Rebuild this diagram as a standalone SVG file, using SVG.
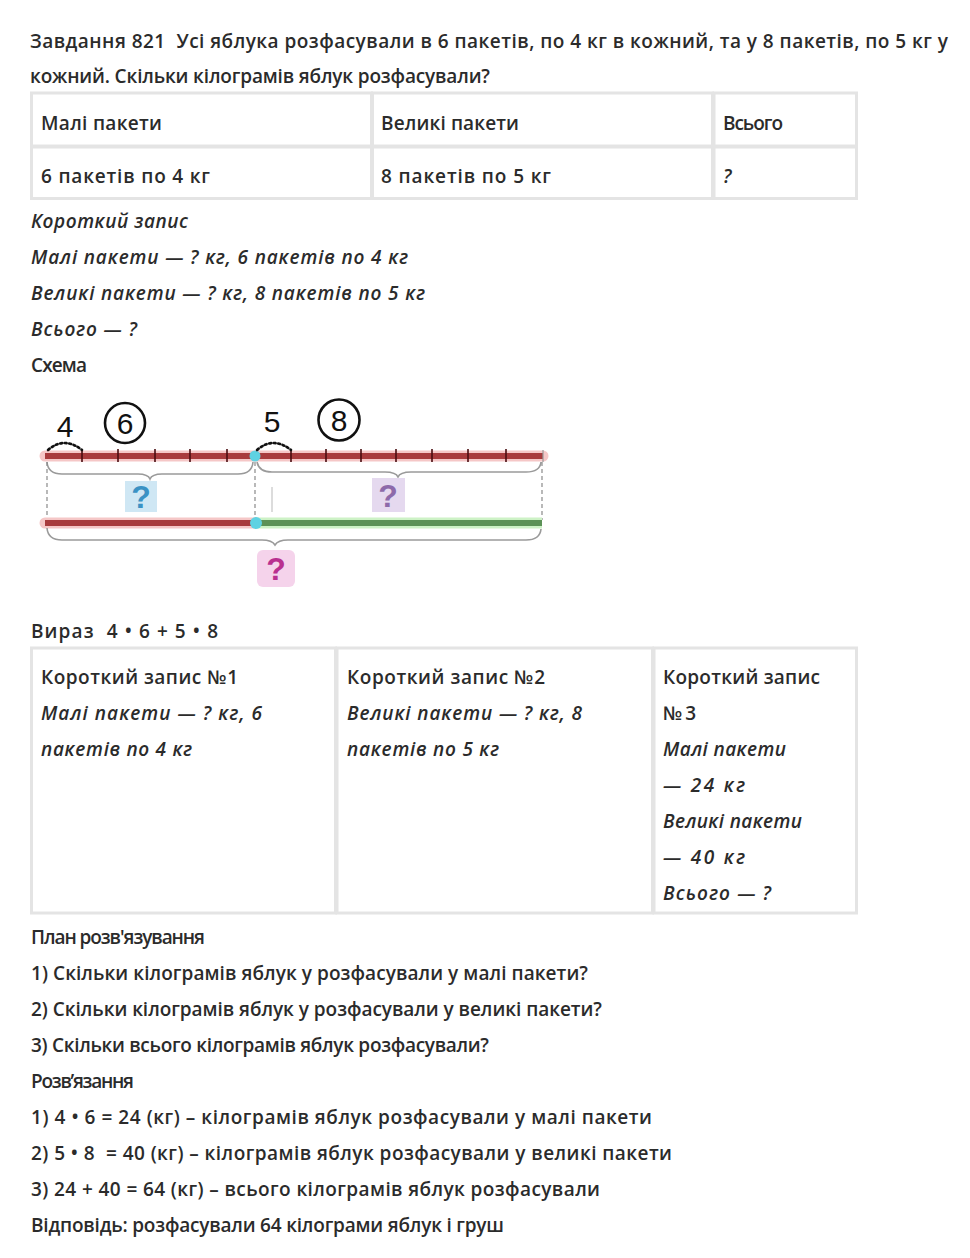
<svg xmlns="http://www.w3.org/2000/svg" width="970" height="1258" viewBox="0 0 970 1258">
<style>
.t{font-family:"Open Sans","Liberation Sans","Noto Sans",sans-serif;font-size:19px;font-weight:600;fill:#2b2b2b}
.i{font-style:italic}
.cell{fill:#fff;stroke:#e4e4e4;stroke-width:3}
.tick{stroke:#4a0c10;stroke-width:1.6}
.brace{fill:none;stroke:#9a9a9a;stroke-width:1.6}
.dash{stroke:#8a8a8a;stroke-width:1.2;stroke-dasharray:4 3}
.dot{fill:none;stroke:#111;stroke-width:2.6;stroke-dasharray:2 2.6;stroke-linecap:round}
.num{font-family:"Liberation Sans","DejaVu Sans",sans-serif;font-size:30px;fill:#111}
.q{font-family:"Liberation Sans","DejaVu Sans",sans-serif;font-size:32px;font-weight:bold}
</style>
<rect width="970" height="1258" fill="#fff"/>

<g id="title">
<text class="t" x="30" y="48" textLength="918" xml:space="preserve">Завдання 821  Усі яблука розфасували в 6 пакетів, по 4 кг в кожний, та у 8 пакетів, по 5 кг у</text>
<text class="t" x="30" y="83" textLength="460">кожний. Скільки кілограмів яблук розфасували?</text>
</g>

<g id="table1">
<rect class="cell" x="31.5" y="93" width="340" height="53"/>
<rect class="cell" x="372.5" y="93" width="340" height="53"/>
<rect class="cell" x="714" y="93" width="142.5" height="53"/>
<rect class="cell" x="31.5" y="147" width="340" height="51.5"/>
<rect class="cell" x="372.5" y="147" width="340" height="51.5"/>
<rect class="cell" x="714" y="147" width="142.5" height="51.5"/>
<text class="t" x="41" y="130" textLength="121">Малі пакети</text>
<text class="t" x="381" y="130" textLength="138">Великі пакети</text>
<text class="t" x="723" y="130" textLength="60">Всього</text>
<text class="t" x="41" y="183" textLength="169">6 пакетів по 4 кг</text>
<text class="t" x="381" y="183" textLength="170">8 пакетів по 5 кг</text>
<text class="t i" x="723" y="183">?</text>
</g>

<g id="short-note">
<text class="t i" x="31" y="228" textLength="157">Короткий запис</text>
<text class="t i" x="31" y="264" textLength="377">Малі пакети — ? кг, 6 пакетів по 4 кг</text>
<text class="t i" x="31" y="300" textLength="394">Великі пакети — ? кг, 8 пакетів по 5 кг</text>
<text class="t i" x="31" y="336" textLength="106">Всього — ?</text>
<text class="t" x="31" y="372" textLength="56">Схема</text>
</g>

<g id="scheme">
<line x1="45" y1="456" x2="543" y2="456" stroke="#f5c7c7" stroke-width="11" stroke-linecap="round"/>
<line x1="45" y1="456" x2="543" y2="456" stroke="#a83b3d" stroke-width="6"/>
<g id="ticks">
<line class="tick" x1="82" y1="449" x2="82" y2="462"/>
<line class="tick" x1="118" y1="449" x2="118" y2="462"/>
<line class="tick" x1="155" y1="449" x2="155" y2="462"/>
<line class="tick" x1="190" y1="449" x2="190" y2="462"/>
<line class="tick" x1="227" y1="449" x2="227" y2="462"/>
<line class="tick" x1="291" y1="449" x2="291" y2="462"/>
<line class="tick" x1="326" y1="449" x2="326" y2="462"/>
<line class="tick" x1="361" y1="449" x2="361" y2="462"/>
<line class="tick" x1="396" y1="449" x2="396" y2="462"/>
<line class="tick" x1="432" y1="449" x2="432" y2="462"/>
<line class="tick" x1="468" y1="449" x2="468" y2="462"/>
<line class="tick" x1="506" y1="449" x2="506" y2="462"/>
<line x1="543" y1="450" x2="543" y2="462" stroke="#999" stroke-width="1.2"/>
</g>
<circle cx="255" cy="456" r="5.5" fill="#5fd2e2"/>
<path class="dot" d="M48,450 Q64,436 82,450"/>
<path class="dot" d="M257,450 Q273,436 291,450"/>
<text class="num" x="65" y="437" text-anchor="middle">4</text>
<circle cx="125" cy="423" r="20" fill="none" stroke="#111" stroke-width="2.6"/>
<text class="num" x="125" y="434" text-anchor="middle">6</text>
<text class="num" x="272" y="432" text-anchor="middle">5</text>
<circle cx="339" cy="420" r="20.5" fill="none" stroke="#111" stroke-width="2.6"/>
<text class="num" x="339" y="431" text-anchor="middle">8</text>
<path class="brace" d="M47,462 Q48,474 62,474 L138,474 Q148,474 150,479 Q152,474 162,474 L238,474 Q252,474 253,462"/>
<path class="brace" d="M257,462 Q259,472 272,472 L385,472 Q396,472 398,477 Q400,472 411,472 L526,472 Q540,472 541,462"/>
<line class="dash" x1="47" y1="462" x2="47" y2="520"/>
<line class="dash" x1="255" y1="462" x2="255" y2="520"/>
<line class="dash" x1="542" y1="462" x2="542" y2="520"/>
<line x1="272" y1="487" x2="272" y2="512" stroke="#d0d0d0" stroke-width="1.5"/>
<rect x="125" y="481" width="32" height="31" fill="#cfe7f4"/>
<text class="q" x="141" y="508" text-anchor="middle" fill="#3a92c4">?</text>
<rect x="372" y="478" width="33" height="34" fill="#e5d9ef"/>
<text class="q" x="388" y="507" text-anchor="middle" fill="#8d6aaa">?</text>
<line x1="45" y1="523" x2="255" y2="523" stroke="#f5c7c7" stroke-width="11" stroke-linecap="round"/>
<line x1="255" y1="523" x2="542" y2="523" stroke="#cdf2c6" stroke-width="11"/>
<line x1="45" y1="523" x2="255" y2="523" stroke="#a83b3d" stroke-width="6"/>
<line x1="255" y1="523" x2="542" y2="523" stroke="#5c9257" stroke-width="6"/>
<circle cx="256" cy="523" r="6" fill="#5fd2e2"/>
<path class="brace" d="M47,528 Q48,540 62,540 L262,540 Q272,540 275,545 Q278,540 288,540 L526,540 Q540,540 541,529"/>
<rect x="257" y="550" width="38" height="37" rx="6" fill="#f5d3eb"/>
<text class="q" x="276" y="580" text-anchor="middle" fill="#b9308f">?</text>
</g>

<g id="expression">
<text class="t" x="31" y="638" textLength="187" xml:space="preserve">Вираз  4 • 6 + 5 • 8</text>
</g>

<g id="table2">
<rect class="cell" x="31.5" y="648" width="304" height="265"/>
<rect class="cell" x="337" y="648" width="315.5" height="265"/>
<rect class="cell" x="654" y="648" width="202.5" height="265"/>
<text class="t" x="41" y="684" textLength="197">Короткий запис №1</text>
<text class="t i" x="41" y="720" textLength="221">Малі пакети — ? кг, 6</text>
<text class="t i" x="41" y="756" textLength="151">пакетів по 4 кг</text>
<text class="t" x="347" y="684" textLength="198">Короткий запис №2</text>
<text class="t i" x="347" y="720" textLength="235">Великі пакети — ? кг, 8</text>
<text class="t i" x="347" y="756" textLength="152">пакетів по 5 кг</text>
<text class="t" x="663" y="684" textLength="157">Короткий запис</text>
<text class="t" x="663" y="720" textLength="33">№3</text>
<text class="t i" x="663" y="756" textLength="123">Малі пакети</text>
<text class="t i" x="663" y="792" textLength="82">— 24 кг</text>
<text class="t i" x="663" y="828" textLength="139">Великі пакети</text>
<text class="t i" x="663" y="864" textLength="82">— 40 кг</text>
<text class="t i" x="663" y="900" textLength="108">Всього — ?</text>
</g>

<g id="plan">
<text class="t" x="31" y="944" textLength="174">План розв'язування</text>
<text class="t" x="31" y="980" textLength="557">1) Скільки кілограмів яблук у розфасували у малі пакети?</text>
<text class="t" x="31" y="1016" textLength="571">2) Скільки кілограмів яблук у розфасували у великі пакети?</text>
<text class="t" x="31" y="1052" textLength="458">3) Скільки всього кілограмів яблук розфасували?</text>
</g>

<g id="solution">
<text class="t" x="31" y="1088" textLength="103">Розв’язання</text>
<text class="t" x="31" y="1124" textLength="621">1) 4 • 6 = 24 (кг) – кілограмів яблук розфасували у малі пакети</text>
<text class="t" x="31" y="1160" textLength="641" xml:space="preserve">2) 5 • 8  = 40 (кг) – кілограмів яблук розфасували у великі пакети</text>
<text class="t" x="31" y="1196" textLength="569">3) 24 + 40 = 64 (кг) – всього кілограмів яблук розфасували</text>
<text class="t" x="31" y="1232" textLength="473">Відповідь: розфасували 64 кілограми яблук і груш</text>
</g>
</svg>
